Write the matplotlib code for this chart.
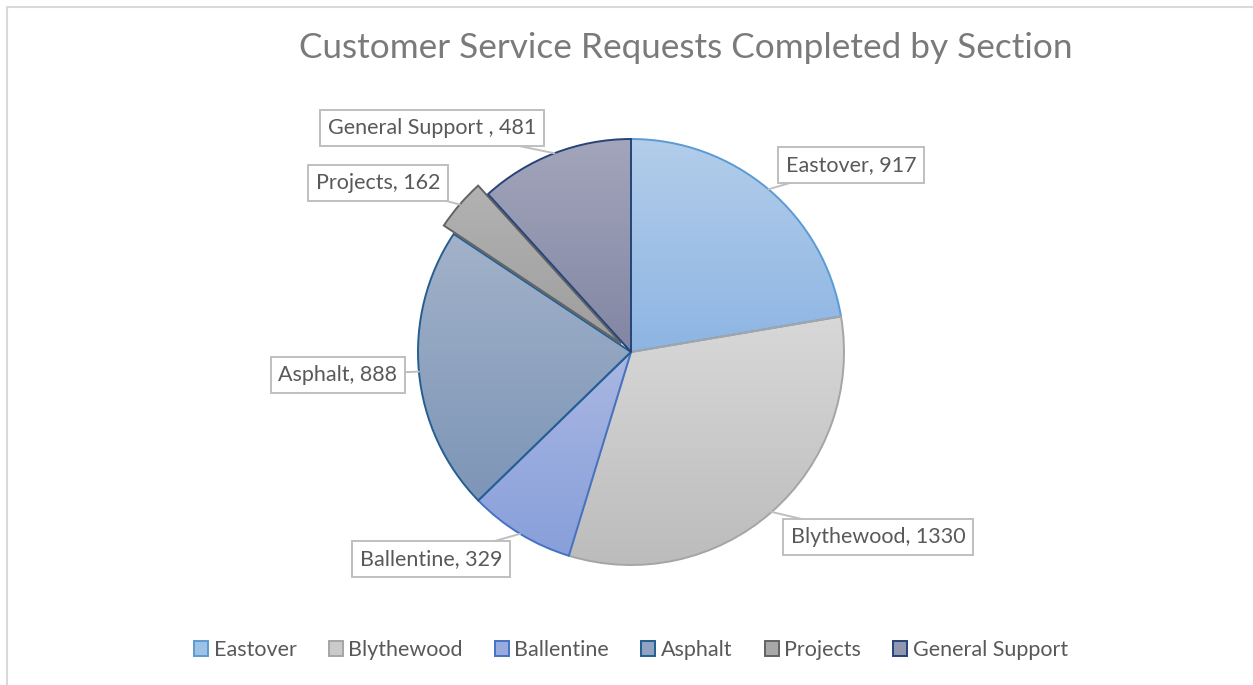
import matplotlib.pyplot as plt
import numpy as np
from matplotlib.colors import LinearSegmentedColormap, to_rgb
from matplotlib.patches import Rectangle
from matplotlib.lines import Line2D

plt.rcParams['font.family'] = ['Lato', 'DejaVu Sans']

# data
sections = ['Eastover', 'Blythewood', 'Ballentine', 'Asphalt', 'Projects', 'General Support']
requests = [917, 1330, 329, 888, 162, 481]
label_names = ['Eastover', 'Blythewood', 'Ballentine', 'Asphalt', 'Projects', 'General Support ']

# styling
top_colors = ['#b3cdea', '#d8d8d8', '#a9b7e2', '#a2b2c9', '#b2b2b2', '#a2a5bb']
bottom_colors = ['#8db5e3', '#bcbcbc', '#889fda', '#7d95b7', '#9e9e9e', '#8286a3']
edge_colors = ['#5b9bd5', '#a5a5a5', '#4472c4', '#255e91', '#636363', '#264478']
# pie explode is in data units here (pixels), not a fraction of the radius
explode = [0, 0, 0, 0, 13, 0]
# label box centres (pixels, from top-left)
label_pos = [(851, 165), (878, 537), (431, 559), (338, 375), (378, 183), (432, 128)]

W, H = 1253, 685
fig = plt.figure(figsize=(W / 100, H / 100), dpi=100)
ax = fig.add_axes([0, 0, 1, 1])

wedges, _ = ax.pie(requests, explode=explode, startangle=90, counterclock=False,
                   center=(631, H - 352), radius=213,
                   wedgeprops=dict(linewidth=1.4))

for w, top, bot, ec in zip(wedges, top_colors, bottom_colors, edge_colors):
    w.set_facecolor('none')
    w.set_edgecolor(ec)
    w.set_zorder(3)
    bb = w.get_path().get_extents()
    cmap = LinearSegmentedColormap.from_list('g', [bot, top])
    grad = np.linspace(0, 1, 256).reshape(-1, 1)
    im = ax.imshow(grad, cmap=cmap, origin='lower', aspect='auto',
                   extent=(bb.x0, bb.x1, bb.y0, bb.y1), zorder=2)
    im.set_clip_path(w)

for w, name, val, (px, py) in zip(wedges, label_names, requests, label_pos):
    ang = np.deg2rad((w.theta1 + w.theta2) / 2)
    cx, cy = w.center
    xy = (cx + w.r * np.cos(ang), cy + w.r * np.sin(ang))
    ax.annotate(f'{name}, {val}', xy=xy, xytext=(px, H - py),
                ha='center', va='center', fontsize=15.5, color='#595959', zorder=5,
                bbox=dict(boxstyle='square,pad=0.35', fc='white', ec='#bfbfbf', lw=1.4),
                arrowprops=dict(arrowstyle='-', color='#bfbfbf', lw=1.4,
                                shrinkA=0, shrinkB=0))

ax.set_xlim(0, W)
ax.set_ylim(0, H)
ax.axis('off')

fig.text(686 / W, 1 - 48 / H, 'Customer Service Requests Completed by Section',
         ha='center', va='center', fontsize=25.3, color='#7a7a7a')

handles = [Rectangle((0, 0), 1, 1, fc=(np.array(to_rgb(t)) + np.array(to_rgb(b))) / 2,
                     ec=ec, lw=1.4)
           for t, b, ec in zip(top_colors, bottom_colors, edge_colors)]
leg = fig.legend(handles, sections, loc='center', bbox_to_anchor=(631 / W, 1 - 650 / H),
                 ncol=6, frameon=False, fontsize=15.5, handlelength=0.65,
                 handleheight=0.65, handletextpad=0.25, columnspacing=1.5)
for t in leg.get_texts():
    t.set_color('#595959')

fig.add_artist(Line2D([7 / W, 7 / W, 1], [0, 1 - 7 / H, 1 - 7 / H],
                      transform=fig.transFigure, color='#d9d9d9', lw=1.5))

fig.savefig('out.png', dpi=100)
